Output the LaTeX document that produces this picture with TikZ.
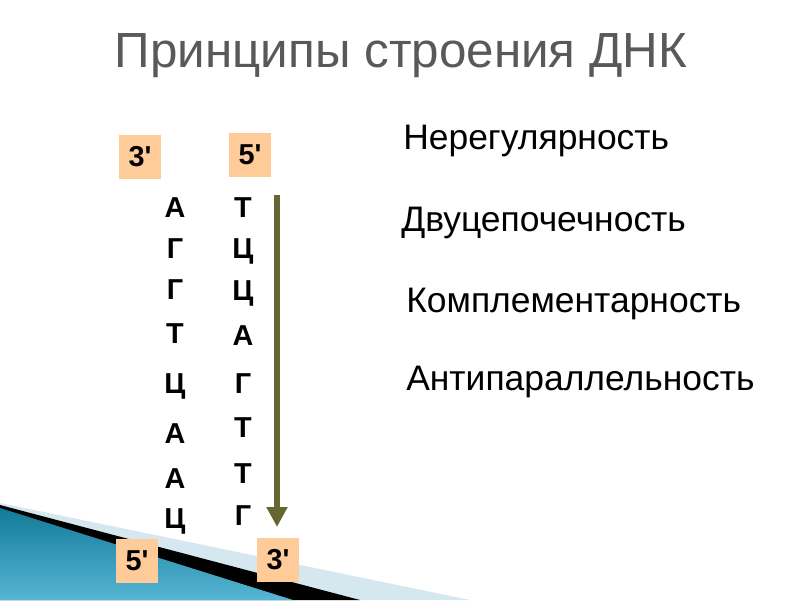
\documentclass[tikz,border=0pt]{standalone}
\usepackage{fontspec}
\setmainfont{Liberation Sans}
\usepackage{xcolor}
\usepackage{tikz}
\usetikzlibrary{arrows.meta, positioning, calc}

\definecolor{peach}{HTML}{FFCC99}
\definecolor{strandolive}{HTML}{666633}
\definecolor{titlegray}{HTML}{595959}
\definecolor{tealdark}{HTML}{137A98}
\definecolor{teallight}{HTML}{56B6D4}
\definecolor{bandblue}{HTML}{D5E7EF}

\begin{document}
\begin{tikzpicture}[
        x=0.025cm, y=-0.025cm,
        endbox/.style={rectangle, fill=peach, minimum width=1.025cm, minimum height=1.1cm, inner sep=0pt, font=\fontsize{20.5}{24}\selectfont\bfseries},
        nucleo/.style={anchor=base, inner sep=0pt, font=\fontsize{20.5}{24}\selectfont\bfseries},
        principle/.style={anchor=base west, inner sep=0pt, font=\fontsize{25.2}{30}\selectfont},
        arrow/.style={-{Triangle[width=0.5cm, length=0.5cm]}, line width=4.3pt, draw=strandolive}
    ]

    \useasboundingbox (0,0) rectangle (800,600);

    % Background wedge
    \fill[bandblue] (0,503) -- (470,600) -- (0,600) -- cycle;
    \fill[black] (0,505) -- (360,600) -- (0,600) -- cycle;
    \shade[top color=tealdark, bottom color=teallight] (0,508) -- (293,600) -- (0,600) -- cycle;

    % Title
    \node[anchor=base, inner sep=0pt, text=titlegray, font=\fontsize{35.1}{42}\selectfont] (title) at (401,67) {Принципы строения ДНК};

    % Nodes
    \node[endbox] (top3) at (140,157) {3\textquotesingle};
    \node[endbox] (top5) at (250,155) {5\textquotesingle};
    \node[endbox] (bot5) at (137,561) {5\textquotesingle};
    \node[endbox] (bot3) at (278,560) {3\textquotesingle};

    \foreach \l/\r/\yl/\yr [count=\i] in {А/Т/217/217, Г/Ц/258/258, Г/Ц/299/300, Т/А/343/345, Ц/Г/393/393, А/Т/443/437, А/Т/488/483, Ц/Г/528/525}
    {
        \node[nucleo] (left\i) at (175,\yl) {\l};
        \node[nucleo] (right\i) at (243,\yr) {\r};
    }

    \node[principle] (irregular) at (403,149) {Нерегулярность};
    \node[principle] (double) at (401,231) {Двуцепочечность};
    \node[principle] (complement) at (406,312) {Комплементарность};
    \node[principle] (antipar) at (406,390) {Антипараллельность};

    % Arrows
    \coordinate (strandtop) at (277,195);
    \coordinate (strandbot) at (277,527);
    \draw[arrow] (strandtop) -- (strandbot);

\end{tikzpicture}
\end{document}
